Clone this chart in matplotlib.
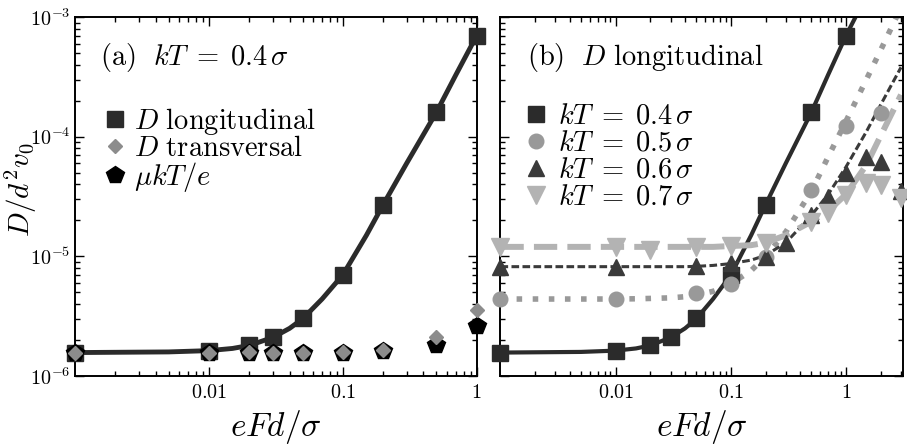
import matplotlib
matplotlib.use('Agg')
import matplotlib.pyplot as plt
from matplotlib.ticker import FixedLocator, FixedFormatter, LogLocator, NullFormatter

plt.rcParams['mathtext.fontset'] = 'cm'
plt.rcParams['font.family'] = 'serif'
plt.rcParams['font.serif'] = ['DejaVu Serif']

# data
x_long = [0.001, 0.01, 0.02, 0.03, 0.05, 0.1, 0.2, 0.5, 1]
D_long_04 = [1.57e-6, 1.62e-6, 1.8e-6, 2.1e-6, 3.05e-6, 7.0e-6, 2.7e-5, 1.6e-4, 7.0e-4]
D_trans_04 = [1.57e-6, 1.57e-6, 1.6e-6, 1.57e-6, 1.55e-6, 1.6e-6, 1.65e-6, 2.1e-6, 3.56e-6]
mob_04 = [1.57e-6, 1.57e-6, 1.57e-6, 1.57e-6, 1.57e-6, 1.57e-6, 1.62e-6, 1.82e-6, 2.63e-6]

x_05 = [0.001, 0.01, 0.05, 0.1, 0.2, 0.5, 1, 2]
D_05 = [4.4e-6, 4.4e-6, 4.9e-6, 5.9e-6, 9.9e-6, 3.6e-5, 1.23e-4, 1.59e-4]
x_06 = [0.001, 0.01, 0.05, 0.1, 0.2, 0.3, 0.5, 0.7, 1, 1.5, 2, 3]
D_06 = [8.2e-6, 8.2e-6, 8.3e-6, 8.75e-6, 9.9e-6, 1.29e-5, 2.22e-5, 3.16e-5, 4.98e-5, 6.8e-5, 6.2e-5, 3.5e-5]
x_07 = [0.001, 0.01, 0.02, 0.05, 0.1, 0.2, 0.5, 0.7, 1, 1.5, 2, 3]
D_07 = [1.2e-5, 1.2e-5, 1.12e-5, 1.2e-5, 1.22e-5, 1.29e-5, 1.95e-5, 2.3e-5, 3.26e-5, 4.1e-5, 3.97e-5, 3.1e-5]

# theory curves
fit_x = [0.001, 0.005, 0.01, 0.015, 0.02, 0.03, 0.04, 0.05, 0.07, 0.1,
         0.15, 0.2, 0.3, 0.5, 0.7, 1, 1.5, 2, 3]
fit_04 = [1.57e-6, 1.59e-6, 1.63e-6, 1.7e-6, 1.8e-6, 2.1e-6, 2.5e-6, 3.0e-6, 4.4e-6, 7.0e-6,
          1.5e-5, 2.7e-5, 6.0e-5, 1.6e-4, 3.3e-4, 7.0e-4, 1.5e-3, 2.6e-3, 5.5e-3]
fit_05 = [4.4e-6, 4.4e-6, 4.4e-6, 4.42e-6, 4.45e-6, 4.5e-6, 4.6e-6, 4.75e-6, 5.1e-6, 5.9e-6,
          7.6e-6, 1.0e-5, 1.6e-5, 3.5e-5, 6.8e-5, 1.35e-4, 3.0e-4, 5.3e-4, 1.2e-3]
fit_06 = [8.2e-6, 8.2e-6, 8.2e-6, 8.2e-6, 8.2e-6, 8.2e-6, 8.2e-6, 8.25e-6, 8.4e-6, 8.7e-6,
          9.3e-6, 1.02e-5, 1.3e-5, 2.2e-5, 3.3e-5, 5.6e-5, 1.1e-4, 1.85e-4, 3.8e-4]
fit_07 = [1.2e-5, 1.2e-5, 1.2e-5, 1.2e-5, 1.2e-5, 1.2e-5, 1.2e-5, 1.2e-5, 1.2e-5, 1.22e-5,
          1.24e-5, 1.3e-5, 1.5e-5, 1.95e-5, 2.4e-5, 3.3e-5, 5.8e-5, 1.02e-4, 2.24e-4]

xtick_vals = [0.01, 0.1, 1]
xtick_text = [r'$0.01$', r'$0.1$', r'$1$']
ytick_vals = [1e-6, 1e-5, 1e-4, 1e-3]
ytick_text = [r'$10^{-6}$', r'$10^{-5}$', r'$10^{-4}$', r'$10^{-3}$']

c_dark = '#2b2b2b'
c_tri = '#3a3a3a'
c_diam = '#8c8c8c'
c_circ = '#999999'
c_light = '#b3b3b3'

FS = 20.5

fig = plt.figure(figsize=(9.07, 4.47), dpi=100)
ax1 = fig.add_axes([0.0827, 0.1588, 0.4429, 0.8031])
ax2 = fig.add_axes([0.5518, 0.1588, 0.4434, 0.8031])


def style_axes(ax, xmax, ylabels):
    ax.set_xscale('log')
    ax.set_yscale('log')
    ax.set_xlim(0.001, xmax)
    ax.set_ylim(1e-6, 1e-3)
    ax.xaxis.set_major_locator(FixedLocator(xtick_vals))
    ax.xaxis.set_major_formatter(FixedFormatter(xtick_text))
    ax.xaxis.set_minor_locator(LogLocator(base=10, subs=range(2, 10), numticks=20))
    ax.xaxis.set_minor_formatter(NullFormatter())
    ax.yaxis.set_major_locator(FixedLocator(ytick_vals))
    if ylabels:
        ax.yaxis.set_major_formatter(FixedFormatter(ytick_text))
    else:
        ax.yaxis.set_major_formatter(NullFormatter())
    ax.yaxis.set_minor_locator(LogLocator(base=10, subs=range(2, 10), numticks=20))
    ax.yaxis.set_minor_formatter(NullFormatter())
    ax.tick_params(which='both', direction='in', top=True, right=True, width=1.0, labelsize=14.5)
    ax.tick_params(which='major', length=6.5)
    ax.tick_params(which='minor', length=3.5)
    ax.tick_params(axis='x', which='major', pad=5)
    ax.tick_params(axis='y', which='major', pad=3.5)
    for s in ax.spines.values():
        s.set_linewidth(1.4)
    ax.set_xlabel(r'$eFd/\sigma$', fontsize=24, labelpad=4)


# panel (a)
ax1.plot(fit_x, fit_04, color=c_dark, lw=3.5, zorder=2)
h1, = ax1.plot(x_long, D_long_04, ls='none', marker='s', ms=12, color=c_dark, clip_on=False, zorder=3)
h3, = ax1.plot(x_long, mob_04, ls='none', marker='p', ms=13, color='black', clip_on=False, zorder=4)
h2, = ax1.plot(x_long, D_trans_04, ls='none', marker='D', ms=7, color=c_diam, clip_on=False, zorder=5)
style_axes(ax1, 1, True)
ax1.set_ylabel(r'$D/d^2v_0$', fontsize=21)
ax1.yaxis.set_label_coords(-0.09, 0.52)
ax1.text(0.062, 0.886, r'$(\mathrm{a})\ \ kT\;=\;0.4\,\sigma$', transform=ax1.transAxes,
         fontsize=FS, va='center', ha='left')
ax1.legend([h1, h2, h3],
           [r'$D\ \mathrm{longitudinal}$', r'$D\ \mathrm{transversal}$', r'$\mu kT/e$'],
           loc='upper left', bbox_to_anchor=(0.077, 0.752), frameon=False, fontsize=FS,
           borderpad=0, borderaxespad=0, handlelength=0.65, handletextpad=0.35,
           labelspacing=-0.08, numpoints=1)

# panel (b)
ax2.plot(fit_x, fit_04, color=c_dark, lw=3.0, zorder=2)
ax2.plot(fit_x, fit_05, color=c_circ, lw=4.0, ls=(0, (1, 1.9)), zorder=2)
ax2.plot(fit_x, fit_06, color=c_tri, lw=2.2, ls=(0, (2.5, 1.1)), zorder=2)
ax2.plot(fit_x, fit_07, color=c_light, lw=4.3, ls=(0, (3.9, 1.7)), zorder=2)
g1, = ax2.plot(x_long, D_long_04, ls='none', marker='s', ms=12, color=c_dark, clip_on=False, zorder=3)
g2, = ax2.plot(x_05, D_05, ls='none', marker='o', ms=10.5, color=c_circ, clip_on=False, zorder=4)
g3, = ax2.plot(x_06, D_06, ls='none', marker='^', ms=11, color=c_tri, clip_on=False, zorder=5)
g4, = ax2.plot(x_07, D_07, ls='none', marker='v', ms=13, color=c_light, clip_on=False, zorder=6)
style_axes(ax2, 3.1, False)
ax2.text(0.066, 0.886, r'$(\mathrm{b})\ \ D\ \mathrm{longitudinal}$', transform=ax2.transAxes,
         fontsize=FS, va='center', ha='left')
ax2.legend([g1, g2, g3, g4],
           [r'$kT\;=\;0.4\,\sigma$', r'$kT\;=\;0.5\,\sigma$', r'$kT\;=\;0.6\,\sigma$', r'$kT\;=\;0.7\,\sigma$'],
           loc='upper left', bbox_to_anchor=(0.066, 0.762), frameon=False, fontsize=FS,
           borderpad=0, borderaxespad=0, handlelength=0.65, handletextpad=0.45,
           labelspacing=0.0, numpoints=1)

fig.savefig('out.png', dpi=100)
